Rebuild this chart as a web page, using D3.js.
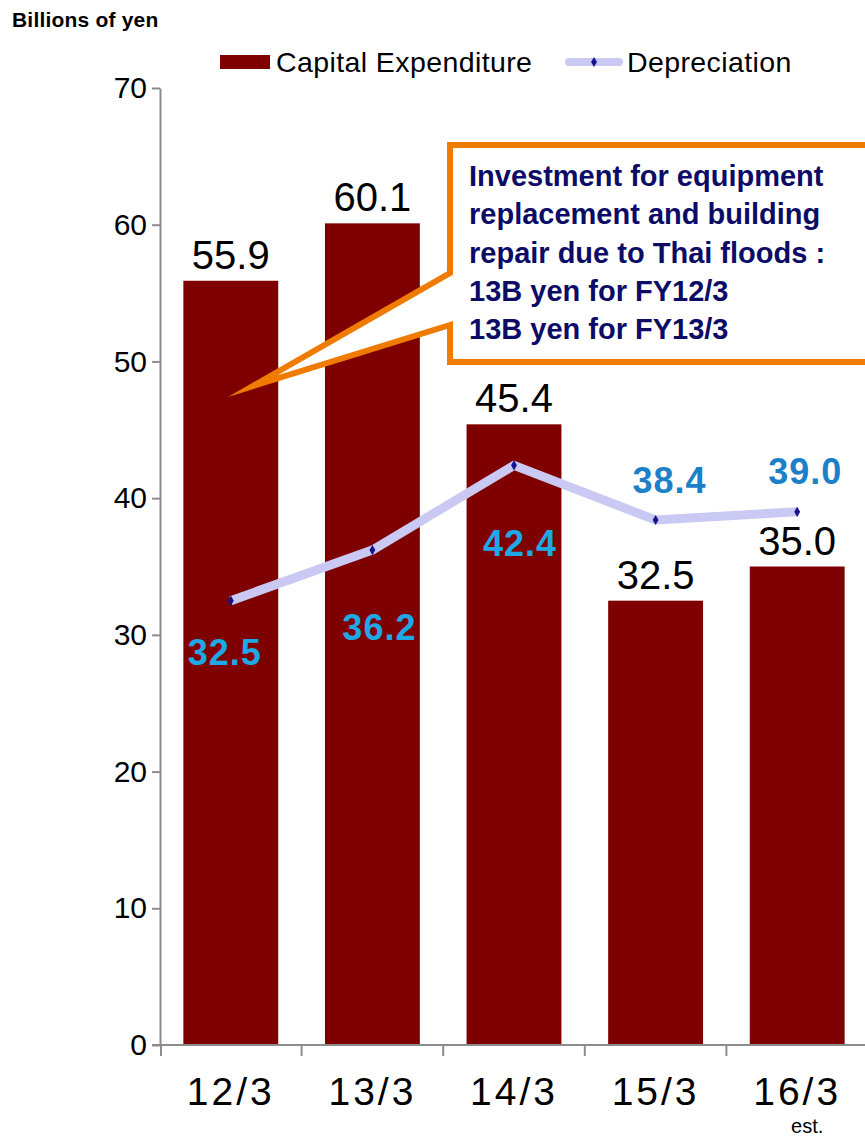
<!DOCTYPE html>
<html>
<head>
<meta charset="utf-8">
<script src="https://cdn.jsdelivr.net/npm/d3@7"></script>
<style>
  body { margin: 0; background: #fff; }
  svg { display: block; }
</style>
</head>
<body>
<div id="chart"></div>
<script>
var svgWidth = 865;
var svgHeight = 1138;

// data
var years = ["12/3", "13/3", "14/3", "15/3", "16/3"];
var capex = [55.9, 60.1, 45.4, 32.5, 35.0];
var depreciation = [32.5, 36.2, 42.4, 38.4, 39.0];
var yTicks = [0, 10, 20, 30, 40, 50, 60, 70];
var noteLines = [
  "Investment for equipment",
  "replacement and building",
  "repair due to Thai floods :",
  "13B yen for FY12/3",
  "13B yen for FY13/3"
];

// where each depreciation label sits relative to its point
var deprLabelOffset = [[-6, 64], [7, 90], [6, 91], [14, -27], [8, -28]];
var deprLabelColor = ["#1ea9e6", "#1ea9e6", "#1ea9e6", "#1b80c8", "#1b80c8"];

var sans = "'Liberation Sans', Arial, sans-serif";

var svg = d3.select("#chart")
  .append("svg")
  .attr("width", svgWidth)
  .attr("height", svgHeight);

var xScale = d3.scaleBand()
  .domain(years)
  .range([160, 868])
  .paddingInner(0.33)
  .paddingOuter(0.165);

var yScale = d3.scaleLinear()
  .domain([0, 70])
  .range([1045, 88]);

var step = xScale.step();
var xCenter = d => xScale(d) + xScale.bandwidth() / 2;

// unit title
svg.append("text")
  .attr("x", 12)
  .attr("y", 27)
  .style("font", "bold 21px " + sans)
  .style("letter-spacing", "0.2px")
  .text("Billions of yen");

// bars
svg.selectAll("rect.bar")
  .data(capex)
  .enter()
  .append("rect")
  .attr("class", "bar")
  .attr("x", (d, i) => xScale(years[i]))
  .attr("y", d => yScale(d))
  .attr("width", xScale.bandwidth())
  .attr("height", d => yScale(0) - yScale(d))
  .attr("fill", "#7f0000");

// y axis
var leftAxis = d3.axisLeft(yScale)
  .tickValues(yTicks)
  .tickSize(8)
  .tickSizeOuter(0)
  .tickPadding(5);

var yAxisG = svg.append("g")
  .attr("transform", "translate(160,0)")
  .call(leftAxis);

yAxisG.select(".domain").attr("stroke", "#8c8c8c").attr("stroke-width", 2);
yAxisG.selectAll(".tick line").attr("stroke", "#8c8c8c").attr("stroke-width", 2);
yAxisG.selectAll(".tick text")
  .style("font", "30px " + sans)
  .attr("fill", "#000");

// x axis baseline and category boundary ticks
svg.append("line")
  .attr("x1", 152).attr("x2", 868)
  .attr("y1", yScale(0)).attr("y2", yScale(0))
  .attr("stroke", "#8c8c8c")
  .attr("stroke-width", 2);

var boundaries = years.map(d => xScale(d) - step * xScale.paddingInner() / 2);
boundaries[0] = 161;
svg.selectAll("line.xtick")
  .data(boundaries)
  .enter()
  .append("line")
  .attr("class", "xtick")
  .attr("x1", d => d).attr("x2", d => d)
  .attr("y1", yScale(0)).attr("y2", yScale(0) + 11)
  .attr("stroke", "#8c8c8c")
  .attr("stroke-width", 2);

svg.selectAll("text.xlabel")
  .data(years)
  .enter()
  .append("text")
  .attr("class", "xlabel")
  .attr("x", d => xCenter(d))
  .attr("y", 1105)
  .attr("text-anchor", "middle")
  .style("font", "39px " + sans)
  .style("letter-spacing", "3px")
  .text(d => d);

svg.append("text")
  .attr("x", xCenter(years[4]) + 10)
  .attr("y", 1133)
  .attr("text-anchor", "middle")
  .style("font", "20px " + sans)
  .text("est.");

// capex value labels
svg.selectAll("text.barlabel")
  .data(capex)
  .enter()
  .append("text")
  .attr("class", "barlabel")
  .attr("x", (d, i) => xCenter(years[i]))
  .attr("y", d => yScale(d) - 12)
  .attr("text-anchor", "middle")
  .style("font", "40px " + sans)
  .text(d => d.toFixed(1));

// depreciation line
var line = d3.line()
  .x((d, i) => xCenter(years[i]))
  .y(d => yScale(d));

svg.append("path")
  .datum(depreciation)
  .attr("d", line)
  .attr("fill", "none")
  .attr("stroke", "#c9c9f4")
  .attr("stroke-width", 9)
  .attr("stroke-linejoin", "round");

var diamond = d3.symbol().type(d3.symbolDiamond).size(30);

svg.selectAll("path.dot")
  .data(depreciation)
  .enter()
  .append("path")
  .attr("class", "dot")
  .attr("d", diamond)
  .attr("transform", (d, i) => `translate(${xCenter(years[i])},${yScale(d)})`)
  .attr("fill", "#14148c");

svg.selectAll("text.deprlabel")
  .data(depreciation)
  .enter()
  .append("text")
  .attr("class", "deprlabel")
  .attr("x", (d, i) => xCenter(years[i]) + deprLabelOffset[i][0])
  .attr("y", (d, i) => yScale(d) + deprLabelOffset[i][1])
  .attr("text-anchor", "middle")
  .style("font", "bold 36px " + sans)
  .style("letter-spacing", "1px")
  .attr("fill", (d, i) => deprLabelColor[i])
  .text(d => d.toFixed(1));

// callout box with pointer
svg.append("path")
  .attr("d", "M450,145 H880 V362 H450 V325 L253,386 L450,273 Z")
  .attr("fill", "#fff")
  .attr("stroke", "#ef7b00")
  .attr("stroke-width", 6)
  .attr("stroke-miterlimit", 20);

svg.append("g")
  .selectAll("text")
  .data(noteLines)
  .enter()
  .append("text")
  .attr("x", 469)
  .attr("y", (d, i) => 186 + i * 38.3)
  .style("font", "bold 29px " + sans)
  .attr("fill", "#0c0c66")
  .text(d => d);

// legend
var legend = svg.append("g");

legend.append("rect")
  .attr("x", 220).attr("y", 55)
  .attr("width", 50).attr("height", 14)
  .attr("fill", "#7f0000");

legend.append("text")
  .attr("x", 276).attr("y", 72)
  .style("font", "28.5px " + sans)
  .style("letter-spacing", "0.4px")
  .text("Capital Expenditure");

legend.append("line")
  .attr("x1", 569).attr("x2", 619)
  .attr("y1", 62).attr("y2", 62)
  .attr("stroke", "#c9c9f4")
  .attr("stroke-width", 8)
  .attr("stroke-linecap", "round");

legend.append("path")
  .attr("d", diamond)
  .attr("transform", "translate(594,62)")
  .attr("fill", "#14148c");

legend.append("text")
  .attr("x", 627).attr("y", 72)
  .style("font", "28.5px " + sans)
  .style("letter-spacing", "0.4px")
  .text("Depreciation");
</script>
</body>
</html>
